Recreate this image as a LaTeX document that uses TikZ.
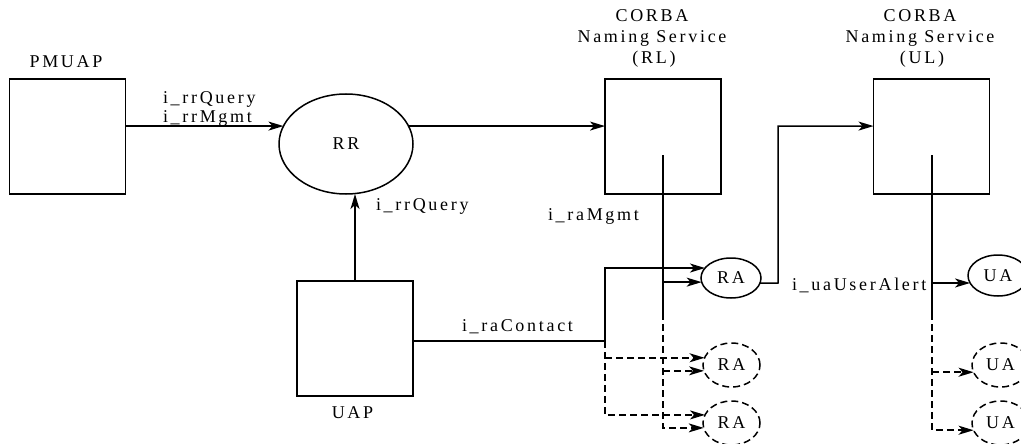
\documentclass[tikz,border=0pt]{standalone}
\usepackage{fontspec}
\setmainfont{Liberation Serif}[LetterSpace=15]
\usetikzlibrary{arrows.meta,shapes.geometric}
\begin{document}
\begin{tikzpicture}[x=1pt,y=-1pt,line width=1.5pt,
  every node/.style={font=\fontsize{18}{21}\selectfont, inner sep=0pt, outer sep=0pt},
  box/.style={draw, rectangle, minimum width=116pt, minimum height=115pt},
  oval/.style={draw, ellipse},
  arr/.style={-{Stealth[length=15pt,width=9pt,inset=4pt]}},
  dsh/.style={dash pattern=on 7pt off 4pt},
  raoval/.style={oval, minimum width=60pt, minimum height=40pt},
  dashoval/.style={oval, dsh, minimum width=57pt, minimum height=44pt},
]
\useasboundingbox (0,0) rectangle (1021,444);

% boxes
\node[box] (pmuap) at (67.5,136.5) {};
\node[box] (rl) at (663,136.5) {};
\node[box] (ul) at (931.5,136.5) {};
\node[box] (uap) at (355,338.5) {};
\node[oval, minimum width=134pt, minimum height=100pt] (rr) at (346,144) {RR};

% ellipses
\node[raoval] (ra) at (731,278) {RA};
\node[dashoval] (rad1) at (731.5,365) {RA};
\node[dashoval] (rad2) at (731.5,423) {RA};
\node[raoval, minimum height=41pt] (ua) at (998,275.5) {UA};
\node[dashoval] (uad1) at (1000.5,365) {UA};
\node[dashoval] (uad2) at (1000.5,423) {UA};

% titles
\node[anchor=base] (lpm) at (66,67) {PMUAP};
\node[anchor=base] (luap) at (352.5,418) {UAP};
\node[anchor=base] (rl1) at (652,22) {CORBA};
\node[anchor=base] (rl2) at (652,43) {Naming Service};
\node[anchor=base] (rl3) at (654,64) {(RL)};
\node[anchor=base] (ul1) at (920,22) {CORBA};
\node[anchor=base] (ul2) at (920,43) {Naming Service};
\node[anchor=base] (ul3) at (922,64) {(UL)};

% connector labels
\node[anchor=base west] (lq1) at (163,103) {i\_rrQuery};
\node[anchor=base west] (lq2) at (163,123) {i\_rrMgmt};
\node[anchor=base west] (lq3) at (376,210) {i\_rrQuery};
\node[anchor=base west] (lmg) at (548,220) {i\_raMgmt};
\node[anchor=base west] (lct) at (462,331) {i\_raContact};
\node[anchor=base west] (lua) at (792,290) {i\_uaUserAlert};

% helper coordinates
\coordinate (c1) at (605,341);
\coordinate (c2) at (778,283);
\coordinate (rlv) at (663,155);
\coordinate (rlm) at (663,313);
\coordinate (ulv) at (932,155);
\coordinate (ulm) at (932,313);

% connectors
\draw[arr] (pmuap.east |- rr.164) -- (rr.164);
\draw[arr] (rr.16) -- (rr.16 -| rl.west);
\draw[arr] (uap.north) -- (uap.north |- rr.south);

\draw[arr] (c1 -| uap.east) -- (c1) |- (ra.159);
\draw[arr,dsh] (c1) |- (rad2.163);
\draw[arr,dsh] (c1 |- rad1.165) -- (rad1.165);

\draw (rlv) -- (rlm);
\draw[arr] (rlv |- ra.188) -- (ra.188);
\draw[arr,dsh] (rlm) |- (rad2.190);
\draw[arr,dsh] (rlm |- rad1.192) -- (rad1.192);

\draw[arr] (ra.350) -- (c2) |- (rr.16 -| ul.west);

\draw (ulv) -- (ulm);
\draw[arr] (ulv |- ua.195) -- (ua.195);
\draw[arr,dsh] (ulm) |- (uad2.195);
\draw[arr,dsh] (ulm |- uad1.195) -- (uad1.195);
\end{tikzpicture}
\end{document}
